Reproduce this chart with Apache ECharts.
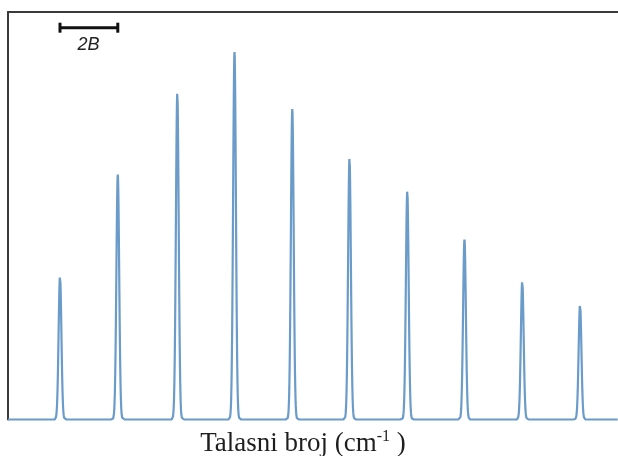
<!DOCTYPE html>
<html><head><meta charset="utf-8">
<script src="https://cdn.jsdelivr.net/npm/echarts@6/dist/echarts.min.js"></script>
<style>html,body{margin:0;padding:0;background:#fff}#c{width:618px;height:456px}</style>
</head><body><div id="c"></div>
<script>
// Line positions (in units of 2B) and relative intensities
const linePositions = [1.0, 2.0, 3.03, 4.02, 5.02, 6.01, 7.01, 8.0, 9.0, 10.0];
const lineIntensities = [39.4, 67.1, 89.5, 100.6, 85.0, 71.6, 62.6, 49.3, 38.1, 31.5];
const lineSigma = 0.0242;           // Gaussian width of each line (2B units)
const xRange = [0.1, 10.657];
const yRange = [0, 111.6];
const scaleBar = [[1.0, 2.0, 107.3]]; // from, to, height
const scaleBarLabel = '2B';
const xTitleMain = 'Talasni broj (cm';
const xTitleSup = '-1';
const xTitleEnd = ' )';

// spectrum profile built from the line list
const spectrum = [];
const step = 0.004;
for (let x = xRange[0]; x <= xRange[1] + 1e-9; x += step) {
  let y = 0;
  for (let i = 0; i < linePositions.length; i++) {
    const d = (x - linePositions[i]) / lineSigma;
    if (Math.abs(d) < 8) y += lineIntensities[i] * Math.exp(-0.5 * d * d);
  }
  spectrum.push([x, y]);
}

const frameColor = '#3a3a3a';
const chart = echarts.init(document.getElementById('c'), null, {renderer: 'canvas'});
chart.setOption({
  animation: false,
  backgroundColor: '#ffffff',
  grid: {left: 8, right: 0, top: 12, bottom: 36.5, containLabel: false, outerBoundsMode: 'none'},
  xAxis: [{
    type: 'value', min: xRange[0], max: xRange[1], position: 'bottom',
    axisLine: {show: false}, axisTick: {show: false}, axisLabel: {show: false}, splitLine: {show: false},
    name: '{m|' + xTitleMain + '}{s|' + xTitleSup + '}{m|' + xTitleEnd + '}',
    nameLocation: 'middle', nameGap: 9,
    nameTextStyle: {
      padding: [0, 20, 0, 0],
      rich: {
        m: {fontFamily: 'Liberation Serif', fontSize: 27, color: '#1e1e1e', lineHeight: 30},
        s: {fontFamily: 'Liberation Serif', fontSize: 16, color: '#1e1e1e', lineHeight: 22, verticalAlign: 'top'}
      }
    }
  }, {
    type: 'value', min: xRange[0], max: xRange[1], position: 'top',
    axisLine: {show: true, lineStyle: {color: frameColor, width: 2}},
    axisTick: {show: false}, axisLabel: {show: false}, splitLine: {show: false}
  }],
  yAxis: {
    type: 'value', min: yRange[0], max: yRange[1],
    axisLine: {show: true, lineStyle: {color: frameColor, width: 2}},
    axisTick: {show: false}, axisLabel: {show: false}, splitLine: {show: false}
  },
  series: [{
    type: 'line', data: spectrum, showSymbol: false, symbol: 'none', sampling: null,
    clip: false, silent: true,
    lineStyle: {color: '#6b9bc9', width: 2.2}
  }, {
    type: 'custom', data: scaleBar, clip: false, silent: true,
    encode: {x: [0, 1], y: 2},
    renderItem: function (params, api) {
      const p1 = api.coord([api.value(0), api.value(2)]);
      const p2 = api.coord([api.value(1), api.value(2)]);
      const s = {stroke: '#111', lineWidth: 3};
      return {type: 'group', children: [
        {type: 'line', shape: {x1: p1[0], y1: p1[1], x2: p2[0], y2: p2[1]}, style: s},
        {type: 'line', shape: {x1: p1[0], y1: p1[1] - 5, x2: p1[0], y2: p1[1] + 5}, style: s},
        {type: 'line', shape: {x1: p2[0], y1: p2[1] - 5, x2: p2[0], y2: p2[1] + 5}, style: s},
        {type: 'text', style: {text: scaleBarLabel, x: (p1[0] + p2[0]) / 2 - 0.5, y: p1[1] + 17.6,
          align: 'center', verticalAlign: 'middle', fill: '#222',
          font: 'italic 18px "Liberation Sans"'}}
      ]};
    }
  }]
});
</script>
</body></html>
